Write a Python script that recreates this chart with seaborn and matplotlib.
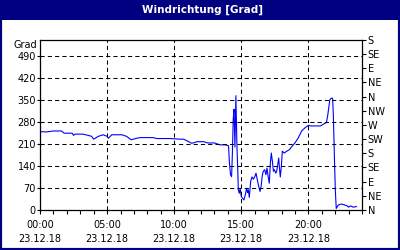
import matplotlib
matplotlib.use("Agg")
import matplotlib.pyplot as plt
import seaborn as sns
import pandas as pd
from matplotlib.patches import Rectangle
from matplotlib.ticker import MultipleLocator

hours = [0.00, 0.50, 1.00, 1.60, 1.80, 2.40, 2.50, 2.60, 3.20, 3.50, 3.85, 4.00, 4.35, 4.70,
         5.00, 5.10, 5.35, 6.10, 6.45, 6.80, 7.20, 7.50, 8.45, 8.70, 9.70, 10.40, 10.70, 10.90,
         11.30, 11.50, 11.70, 12.20, 12.50, 13.00, 13.40, 13.80, 14.05, 14.12, 14.20, 14.28,
         14.34, 14.40, 14.46, 14.53, 14.60, 14.68, 14.74, 14.78, 14.85, 14.92, 15.00, 15.10,
         15.20, 15.30, 15.40, 15.47, 15.53, 15.60, 15.70, 15.80, 15.90, 16.00, 16.10, 16.20,
         16.30, 16.40, 16.48, 16.56, 16.64, 16.75, 16.84, 16.92, 17.00, 17.09, 17.17, 17.24,
         17.32, 17.40, 17.47, 17.57, 17.64, 17.72, 17.79, 17.86, 17.91, 17.99, 18.06, 18.20,
         18.40, 18.60, 18.80, 19.00, 19.25, 19.50, 19.75, 20.00, 20.20, 20.60, 20.90, 21.10,
         21.35, 21.45, 21.60, 21.70, 21.81, 21.86, 21.93, 22.01, 22.08, 22.23, 22.48, 22.70,
         22.90, 23.00, 23.15, 23.35, 23.60]
direction = [249, 248, 251, 251, 244, 244, 237, 241, 241, 238, 234, 225, 234, 239,
             234, 228, 239, 239, 234, 223, 228, 230, 230, 227, 227, 225, 225, 221,
             212, 214, 217, 217, 213, 213, 207, 207, 204, 150, 112, 106,
             180, 288, 320, 200, 363, 201, 128, 64, 53, 69, 43, 37,
             32, 48, 69, 55, 64, 40, 91, 105, 98, 105, 117, 95,
             75, 59, 75, 107, 123, 128, 112, 133, 107, 85, 149, 181,
             155, 123, 128, 117, 123, 144, 165, 128, 105, 139, 187, 181,
             187, 192, 203, 213, 229, 251, 261, 269, 267, 267, 267, 272,
             278, 302, 350, 355, 355, 307, 191, 64, 5, 16, 19, 16,
             13, 9, 13, 9, 11]

left_ticks = [0, 70, 140, 210, 280, 350, 420, 490]
compass_labels = ["N", "NE", "E", "SE", "S", "SW", "W", "NW", "N", "NE", "E", "SE", "S"]
compass_ticks = [0, 45, 90, 135, 180, 225, 270, 315, 360, 405, 450, 495, 540]
x_ticks = [0, 5, 10, 15, 20]
x_labels = ["00:00\n23.12.18", "05:00\n23.12.18", "10:00\n23.12.18",
            "15:00\n23.12.18", "20:00\n23.12.18"]
title = "Windrichtung [Grad]"

sns.set_style("white")
plt.rcParams['font.family'] = ['DejaVu Sans']

df = pd.DataFrame({"hour": hours, "dir": direction})

fig = plt.figure(figsize=(4, 2.5), dpi=100)
fig.patch.set_facecolor("white")
ax = fig.add_axes([0.1, 0.16, 0.805, 0.68])

sns.lineplot(data=df, x="hour", y="dir", ax=ax, color="#0000ff", linewidth=0.8)

ax.set_xlim(0, 24)
ax.set_ylim(0, 540)
ax.set_xlabel("")
ax.set_ylabel("")
ax.set_yticks(left_ticks)
ax.set_yticklabels([str(v) for v in left_ticks], fontsize=7, color="#000000")
ax.set_xticks(x_ticks)
ax.set_xticklabels(x_labels, fontsize=7, color="#000000")
for t in ax.get_xticklabels():
    t.set_linespacing(1.55)
ax.xaxis.set_minor_locator(MultipleLocator(1))
ax.tick_params(axis="x", which="major", direction="out", length=3, width=0.8, pad=4, color="black", bottom=True)
ax.tick_params(axis="x", which="minor", direction="out", length=3, width=0.8, color="black", bottom=True)
ax.tick_params(axis="y", direction="out", length=2, width=0.8, pad=1, color="black", left=True)

ax.grid(True, which="major", color="black", linestyle=(0, (4, 3)), linewidth=0.75)
ax.set_axisbelow(False)
for s in ax.spines.values():
    s.set_color("black")
    s.set_linewidth(0.9)

ax2 = ax.twinx()
ax2.set_ylim(0, 540)
ax2.set_yticks(compass_ticks)
ax2.set_yticklabels(compass_labels, fontsize=7, color="#000000")
ax2.tick_params(axis="y", direction="out", length=3, width=0.8, pad=1, color="black", right=True)
ax2.grid(False)
for s in ax2.spines.values():
    s.set_visible(False)

ax.text(-0.01, 1.0, "Grad", transform=ax.transAxes, ha="right", va="top", fontsize=7, color="#000000")

# title bar and frame
fig.patches.append(Rectangle((0, 1 - 20 / 250), 1, 20 / 250, transform=fig.transFigure,
                             facecolor="#000080", edgecolor="none", zorder=0))
fig.patches.append(Rectangle((0, 0), 1, 1, transform=fig.transFigure, fill=False,
                             edgecolor="#000080", linewidth=3, zorder=0))
fig.text(0.507, 1 - 10 / 250, title, color="white", fontsize=7.5, fontweight="bold",
         ha="center", va="center")

fig.savefig("out.png", dpi=100)
